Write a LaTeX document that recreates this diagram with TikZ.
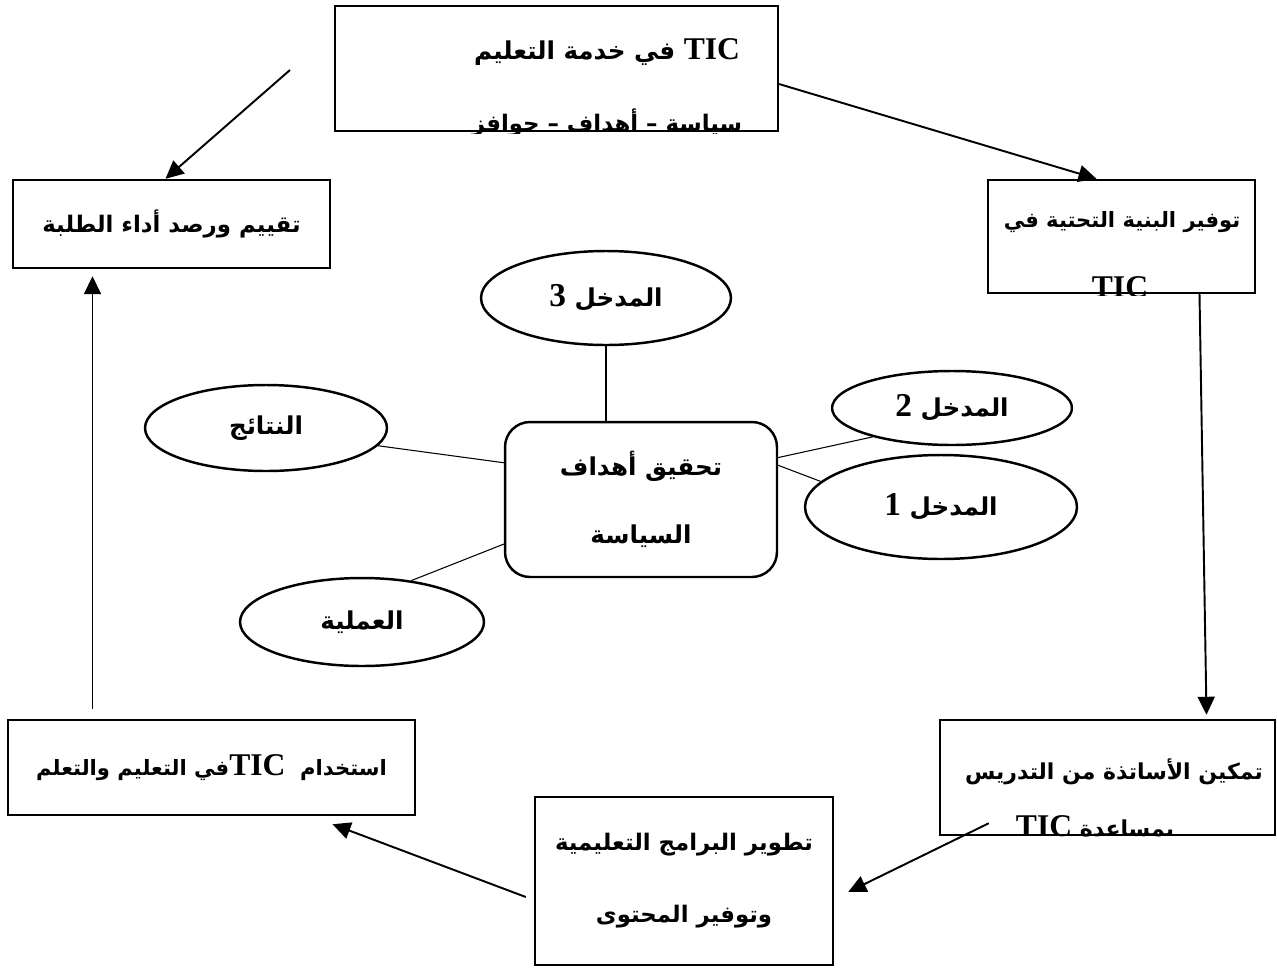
\documentclass[tikz,border=0pt]{standalone}
\usepackage{fontspec}
\usetikzlibrary{arrows.meta,calc,positioning,shapes.geometric}
\TeXXeTstate=1
\newfontfamily\arabicfont[Script=Arabic]{DejaVu Sans}
\newfontfamily\latinfont{Liberation Serif}
\newcommand{\tic}{\beginL{\latinfont\bfseries\fontsize{18}{18}\selectfont TIC}\endL}
\newcommand{\entryno}[1]{{\latinfont\bfseries\fontsize{19}{19}\selectfont #1}}

\begin{document}
\begin{tikzpicture}[
  x=0.02cm,y=-0.02cm,
  box/.style={draw,line width=1.4pt,rectangle,inner sep=0pt},
  goalbox/.style={box,rounded corners=0.5cm},
  entry/.style={draw,line width=1.4pt,ellipse,inner sep=0pt},
  arab/.style={font=\arabicfont\bfseries\fontsize{#1}{17}\selectfont,align=center},
  arab/.default=14,
  flow/.style={line width=1.1pt,-{Triangle[length=3.6mm,width=3.4mm]}},
  link/.style={line width=0.6pt}
]
  \useasboundingbox (0,0) rectangle (1277,970);

  % Policy box at the top; its second line runs under the frame.
  \begin{scope}
    \clip (333,4) rectangle (780,133);
    \node[arab] (topA) at (607,52) {\beginR\tic{} في خدمة التعليم\endR};
    \node[arab=13] (topB) at (607,123) {\beginR سياسة – أهداف – حوافز\endR};
  \end{scope}
  \node[box,minimum width=8.86cm,minimum height=2.5cm] (top) at (556.5,68.5) {};

  % Infrastructure and teacher boxes, also cut at the bottom.
  \begin{scope}
    \clip (986,178) rectangle (1257,295);
    \node[arab=12] (infraA) at (1122,222) {\beginR توفير البنية التحتية في\endR};
    \node[arab] (infraB) at (1120,287) {\beginR\tic\endR};
  \end{scope}
  \node[box,minimum width=5.34cm,minimum height=2.26cm] (infra) at (1121.5,236.5) {};

  \begin{scope}
    \clip (938,718) rectangle (1277,837);
    \node[arab=12.5] (enableA) at (1114,772) {\beginR تمكين الأساتذة من التدريس\endR};
    \node[arab=12.5] (enableB) at (1095,828) {\beginR بمساعدة \tic\endR};
  \end{scope}
  \node[box,minimum width=6.7cm,minimum height=2.3cm] (enable) at (1107.5,777.5) {};

  \node[box,arab=13,minimum width=6.34cm,minimum height=1.76cm] (evalbox) at (171.5,224)
    {\beginR تقييم ورصد أداء الطلبة\endR};
  \node[box,arab=12,minimum width=8.14cm,minimum height=1.9cm] (usebox) at (211.5,767.5)
    {\beginR استخدام\ \ \tic في التعليم والتعلم\endR};
  \node[box,arab=13,minimum width=5.96cm,minimum height=3.36cm] (devbox) at (684,881)
    {\beginR تطوير البرامج التعليمية\endR\\[24pt]\beginR وتوفير المحتوى\endR};

  % Central goal with its entries.
  \node[goalbox,arab,minimum width=5.44cm,minimum height=3.1cm] (goal) at (641,499.5)
    {\beginR تحقيق أهداف\endR\\[22pt]\beginR السياسة\endR};
  \node[entry,arab,minimum width=5cm,minimum height=1.88cm] (in3) at (606,298)
    {\beginR المدخل \entryno{3}\endR};
  \node[entry,arab,minimum width=4.8cm,minimum height=1.48cm] (in2) at (952,408)
    {\beginR المدخل \entryno{2}\endR};
  \node[entry,arab,minimum width=5.44cm,minimum height=2.08cm] (in1) at (941,507)
    {\beginR المدخل \entryno{1}\endR};
  \node[entry,arab,minimum width=4.84cm,minimum height=1.72cm] (results) at (266,428)
    {\beginR النتائج\endR};
  \node[entry,arab,minimum width=4.88cm,minimum height=1.76cm] (process) at (362,622)
    {\beginR العملية\endR};

  \draw[link] (in3.south) -- (in3.south |- goal.north);
  \draw[link] (results.-9) -- (goal.165);
  \draw[link] (process.40) -- (goal.198);
  \draw[link] (in2.200) -- (goal.17);
  \draw[link] (in1.168) -- (goal.14);

  % Outer cycle.
  \coordinate (topout) at (290,70);
  \draw[flow] (topout) -- ($(evalbox.north)+(-6,0)$);
  \draw[flow] (top.-4) -- ($(infra.north)+(-25,0)$);
  \draw[flow] ($(infra.south)+(78,0)$) -- ($(enable.north)+(99,-4)$);
  \draw[flow] ($(enable.south west)+(50,-13)$) -- ($(devbox.east)+(14,11)$);
  \draw[flow] ($(devbox.west)+(-8,16)$) -- ($(usebox.south)+(121,8)$);
  \draw[flow] ($(usebox.north)+(-119,-10)$) -- ($(evalbox.south)+(-79,7)$);
\end{tikzpicture}
\end{document}
